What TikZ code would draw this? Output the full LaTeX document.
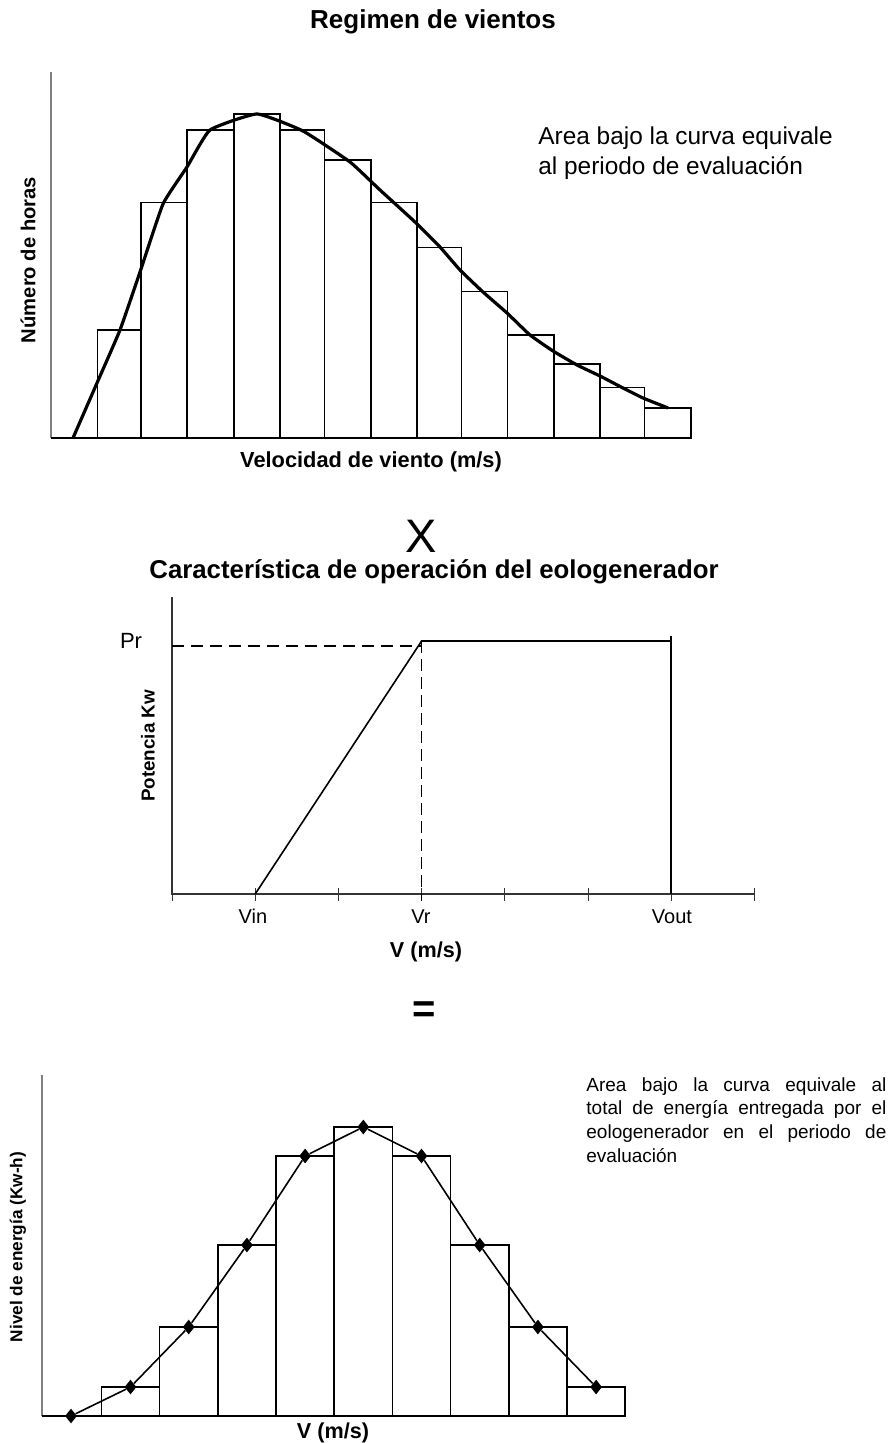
\documentclass[tikz,border=0pt]{standalone}
\usepackage{fontspec}
\setmainfont{Liberation Sans}
\usetikzlibrary{shapes.geometric}

\begin{document}
\begin{tikzpicture}[x=0.5pt, y=-0.5pt,
    txtb/.style={font=\bfseries\fontsize{#1}{#1}\selectfont, inner sep=0pt, anchor=base},
    txtn/.style={font=\fontsize{#1}{#1}\selectfont, inner sep=0pt, anchor=base},
    rombo/.style={diamond, fill=black, inner sep=0pt, minimum width=6pt, minimum height=7.5pt}]
    \def\histostyle{thick}
    \def\curvestyle{ultra thick}
    \useasboundingbox (0,0) rectangle (889,1443);

    % regimen de vientos
    \node[txtb=13] (titulo1) at (433,29) {Regimen de vientos};
    \draw[gray, thick] (51,72) -- (51,438);
    \draw[\histostyle] (51,438) -- (691,438);
    \foreach \xa/\xb/\h in {97.5/141/330, 141/187/202.5, 187/234/130, 234/280/114, 280/324.5/130,
        324.5/371/160, 371/417/202.5, 417/461.5/247.5, 461.5/507.5/291.5, 507.5/554/335,
        554/600/364, 600/644.5/387.5, 644.5/691/408}
    {
    \draw[\histostyle] (\xa,438) rectangle (\xb,\h);
    }
    \draw[\curvestyle, line join=round] plot[smooth, tension=0.25] coordinates {(73,438) (97,383)
        (120,330) (140,272) (163,204) (187,167) (210,130) (257,114) (303,131) (350,162)
        (380,190) (415,222) (440,247) (460,270) (483,292) (507,313) (530,335) (553,351)
        (577,365) (600,376) (623,388) (643,398) (668,408)};
    \node[txtb=10.1, rotate=90, anchor=center] (horas) at (28,260) {Número de horas};
    \node[txtb=10.9] (vel1) at (371,467) {Velocidad de viento (m/s)};
    \node[txtn=12.2, anchor=base west] (area1) at (538,145) {Area bajo la curva equivale};
    \node[txtn=12.2, anchor=base west] (area2) at (538,175) {al periodo de evaluación};

    % operacion del eologenerador
    \node[txtn=23.5] (por) at (421,552) {X};
    \node[txtb=12.9] (titulo2) at (434,578) {Característica de operación del eologenerador};
    \draw[black!80, \histostyle] (172,597) -- (172,894) -- (755,894);
    \foreach \i in {0,1,...,7}
    {
    \draw[black!80] ({172+83.2*\i},888) -- ++(0,13);
    }
    \coordinate (Vin) at (255.2,894);
    \coordinate (Vr) at (421.6,894);
    \coordinate (Vout) at (671.2,894);
    \coordinate (Pr) at (421.6,641);
    \draw[\histostyle] (Vin) -- (Pr) -- (671.2,641);
    \draw[\histostyle] (671.2,636) -- (Vout);
    \draw[\histostyle, dash pattern=on 6pt off 3.5pt] (172,646) -- (421.6,646);
    \draw[\histostyle, dash pattern=on 6pt off 3pt] (Pr) -- (421.6,901);
    \node[txtn=11] (pr) at (131,648) {Pr};
    \node[txtn=10] (vin) at (253,923) {Vin};
    \node[txtn=10] (vr) at (421,923) {Vr};
    \node[txtn=10] (vout) at (672,923) {Vout};
    \node[txtb=10.8] (vel2) at (426,957) {V (m/s)};
    \node[txtb=9.4, rotate=90, anchor=center] (pot) at (148,746) {Potencia Kw};

    % energia entregada
    \node[txtb=20] (igual) at (424,1022) {=};
    \draw[gray, thick] (42,1075) -- (42,1416);
    \draw[\histostyle] (42,1416) -- (625.2,1416);
    \foreach \xa/\xb/\h in {101.4/159.6/1387, 159.6/217.8/1327, 217.8/276/1245, 276/334.2/1156,
        334.2/392.4/1127, 392.4/450.6/1156, 450.6/508.8/1245, 508.8/567/1327, 567/625.2/1387}
    {
    \draw[\histostyle] (\xa,1416) rectangle (\xb,\h);
    }
    \node[rombo] (D0) at (71,1416) {};
    \foreach \i/\xc/\h in {1/130.5/1387, 2/188.7/1327, 3/246.9/1245, 4/305.1/1156, 5/363.3/1127,
        6/421.5/1156, 7/479.7/1245, 8/537.9/1327, 9/596.1/1387}
    {
    \node[rombo] (D\i) at (\xc,\h) {};
    }
    \draw[thick] (D0) -- (D1) -- (D2) -- (D3) -- (D4) -- (D5) -- (D6) -- (D7) -- (D8) -- (D9);
    \node[txtb=8.6, rotate=90, anchor=center] (nivel) at (18,1247) {Nivel de energía (Kw-h)};
    \node[txtb=10.8] (vel3) at (333,1438) {V (m/s)};
    \node[txtn=9.5, anchor=base west] (total1) at (586,1091) {\makebox[150pt][s]{Area bajo la curva equivale al}};
    \node[txtn=9.5, anchor=base west] (total2) at (586,1114) {\makebox[150pt][s]{total de energía entregada por el}};
    \node[txtn=9.5, anchor=base west] (total3) at (586,1138) {\makebox[150pt][s]{eologenerador en el periodo de}};
    \node[txtn=9.5, anchor=base west] (total4) at (586,1162) {evaluación};
\end{tikzpicture}
\end{document}
